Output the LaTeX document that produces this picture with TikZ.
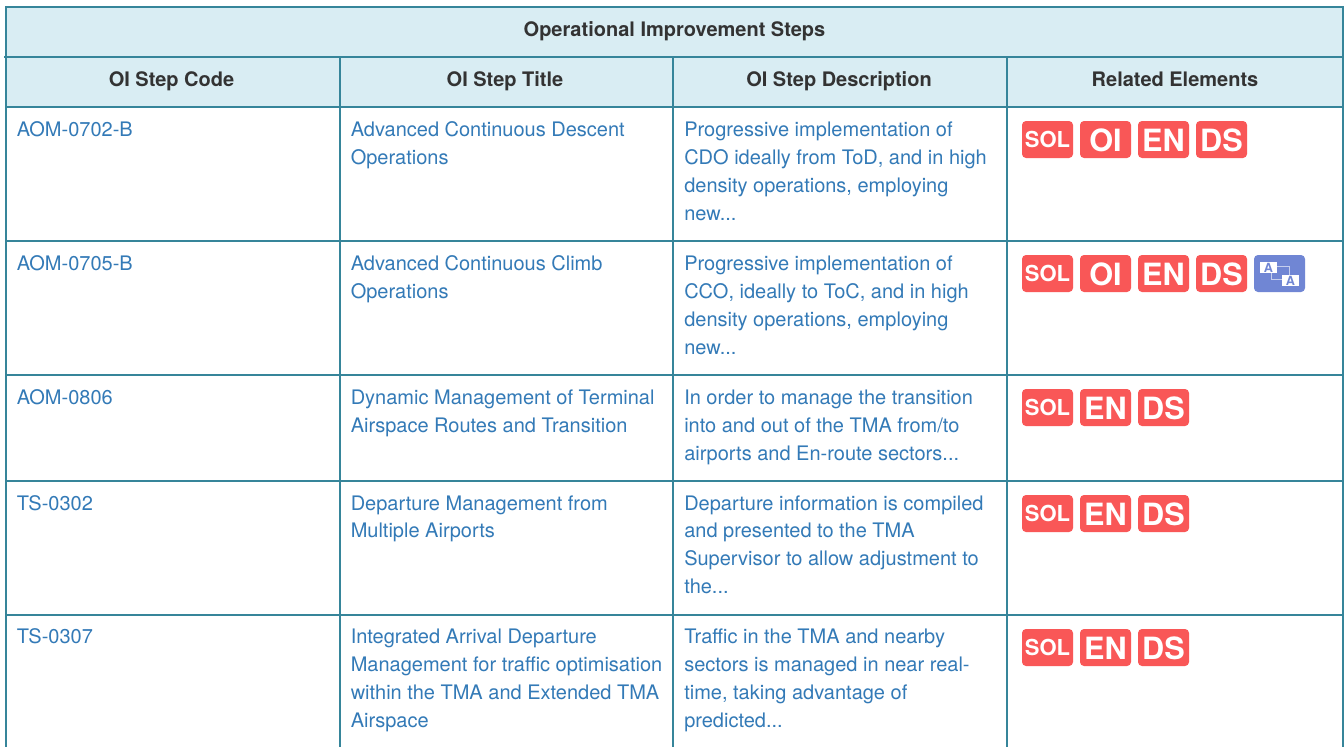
\documentclass[tikz,border=0pt]{standalone}
\usepackage{fontspec}
\setmainfont{TeX Gyre Heros}
\definecolor{rule}{HTML}{36859A}
\definecolor{headbg}{HTML}{D9EDF3}
\definecolor{linkc}{HTML}{337AB7}
\definecolor{headc}{HTML}{333333}
\definecolor{badger}{HTML}{F95757}
\definecolor{badgeb}{HTML}{7086D4}
\definecolor{iconl}{HTML}{C5CEEE}
\tikzset{
  x=0.75pt,y=-0.75pt,
  gridline/.style={draw=rule,line width=1.5pt},
  headtxt/.style={font=\fontsize{15pt}{18pt}\selectfont\bfseries,text=headc,anchor=base,inner sep=0pt,yshift=-0.75pt},
  celltxt/.style={font=\fontsize{15pt}{18pt}\selectfont,text=linkc,anchor=base west,inner sep=0pt,yshift=-0.75pt},
  badgebox/.style={fill=badger,rounded corners=3pt,draw=none},
  badgebig/.style={font=\fontsize{23pt}{26pt}\selectfont\bfseries,text=white,anchor=base,inner sep=0pt},
  badgesmall/.style={font=\fontsize{16.5pt}{19pt}\selectfont\bfseries,text=white,anchor=base,inner sep=0pt},
  iconbox/.style={fill=white,draw=none},
  iconlet/.style={font=\fontsize{9.5pt}{12pt}\selectfont\bfseries,text=badgeb,anchor=base,inner sep=0pt},
  iconline/.style={draw=iconl,line width=0.75pt}
}
\newcommand{\badgeat}[4]{% name, left x, top y, label
  \fill[badgebox] (#2,#3) rectangle ++(51,37);
  \node[badgebig] (#1) at ({#2+25.5},{#3+30}) {#4};}
\newcommand{\solat}[3]{% name, left x, top y
  \fill[badgebox] (#2,#3) rectangle ++(51,37);
  \node[badgesmall] (#1) at ({#2+25.5},{#3+26.5}) {SOL};}
\begin{document}
\begin{tikzpicture}
\useasboundingbox (0,0) rectangle (1344,747);
\fill[white] (0,0) rectangle (1344,747);
\fill[headbg] (6,7) rectangle (1343,107);
% grid
\draw[gridline] (5,7) -- (1344,7);
\draw[gridline] (4,57) -- (1344,57);
\draw[gridline] (6,107) -- (1344,107);
\draw[gridline] (6,241) -- (1344,241);
\draw[gridline] (6,375) -- (1344,375);
\draw[gridline] (6,481) -- (1344,481);
\draw[gridline] (6,615) -- (1344,615);
\draw[gridline] (6,6) -- (6,747);
\draw[gridline] (340,57) -- (340,747);
\draw[gridline] (673,57) -- (673,747);
\draw[gridline] (1007,57) -- (1007,747);
\draw[gridline] (1343,6) -- (1343,747);
% headers
\node[headtxt] (title) at (674.5,35) {Operational Improvement Steps};
\node[headtxt] (h1) at (171.5,85.5) {OI Step Code};
\node[headtxt] (h2) at (505,85.5) {OI Step Title};
\node[headtxt] (h3) at (839,85.5) {OI Step Description};
\node[headtxt] (h4) at (1175,85.5) {Related Elements};
% row 1
\node[celltxt] (c11) at (16.5,135.5) {AOM-0702-B};
\node[celltxt] (c12a) at (350.5,135.5) {Advanced Continuous Descent};
\node[celltxt] (c12b) at (350.5,163.5) {Operations};
\node[celltxt] (c13a) at (684,135.5) {Progressive implementation of};
\node[celltxt] (c13b) at (684,163.5) {CDO ideally from ToD, and in high};
\node[celltxt] (c13c) at (684,191.5) {density operations, employing};
\node[celltxt] (c13d) at (684,219.5) {new...};
\solat{b11}{1022}{121}
\badgeat{b12}{1080}{121}{OI}
\badgeat{b13}{1138}{121}{EN}
\badgeat{b14}{1196}{121}{DS}
% row 2
\node[celltxt] (c21) at (16.5,269.5) {AOM-0705-B};
\node[celltxt] (c22a) at (350.5,269.5) {Advanced Continuous Climb};
\node[celltxt] (c22b) at (350.5,297.5) {Operations};
\node[celltxt] (c23a) at (684,269.5) {Progressive implementation of};
\node[celltxt] (c23b) at (684,297.5) {CCO, ideally to ToC, and in high};
\node[celltxt] (c23c) at (684,325.5) {density operations, employing};
\node[celltxt] (c23d) at (684,353.5) {new...};
\solat{b21}{1022}{255}
\badgeat{b22}{1080}{255}{OI}
\badgeat{b23}{1138}{255}{EN}
\badgeat{b24}{1196}{255}{DS}
\fill[badgebox,fill=badgeb] (1254,255) rectangle ++(51,37);
\draw[iconline] (1277,266.5) -- (1289,266.5) -- (1289,275);
\draw[iconline] (1271,273) -- (1271,279.5) -- (1282,279.5);
\fill[iconbox] (1260,262) rectangle (1277,273);
\fill[iconbox] (1282,275) rectangle (1299,286);
\node[iconlet] (ia) at (1268.5,272) {A};
\node[iconlet] (ib) at (1290.5,285) {A};
% row 3
\node[celltxt] (c31) at (16.5,403.5) {AOM-0806};
\node[celltxt] (c32a) at (350.5,403.5) {Dynamic Management of Terminal};
\node[celltxt] (c32b) at (350.5,431.5) {Airspace Routes and Transition};
\node[celltxt] (c33a) at (684,403.5) {In order to manage the transition};
\node[celltxt] (c33b) at (684,431.5) {into and out of the TMA from/to};
\node[celltxt] (c33c) at (684,459.5) {airports and En-route sectors...};
\solat{b31}{1022}{389}
\badgeat{b33}{1080}{389}{EN}
\badgeat{b34}{1138}{389}{DS}
% row 4
\node[celltxt] (c41) at (16.5,509.5) {TS-0302};
\node[celltxt] (c42a) at (350.5,509.5) {Departure Management from};
\node[celltxt] (c42b) at (350.5,536.5) {Multiple Airports};
\node[celltxt] (c43a) at (684,509.5) {Departure information is compiled};
\node[celltxt] (c43b) at (684,536.5) {and presented to the TMA};
\node[celltxt] (c43c) at (684,564.5) {Supervisor to allow adjustment to};
\node[celltxt] (c43d) at (684,592.5) {the...};
\solat{b41}{1022}{495}
\badgeat{b43}{1080}{495}{EN}
\badgeat{b44}{1138}{495}{DS}
% row 5
\node[celltxt] (c51) at (16.5,642.5) {TS-0307};
\node[celltxt] (c52a) at (350.5,642.5) {Integrated Arrival Departure};
\node[celltxt] (c52b) at (350.5,670.5) {Management for traffic optimisation};
\node[celltxt] (c52c) at (350.5,698.5) {within the TMA and Extended TMA};
\node[celltxt] (c52d) at (350.5,726.5) {Airspace};
\node[celltxt] (c53a) at (684,642.5) {Traffic in the TMA and nearby};
\node[celltxt] (c53b) at (684,670.5) {sectors is managed in near real-};
\node[celltxt] (c53c) at (684,698.5) {time, taking advantage of};
\node[celltxt] (c53d) at (684,726.5) {predicted...};
\solat{b51}{1022}{629}
\badgeat{b53}{1080}{629}{EN}
\badgeat{b54}{1138}{629}{DS}
\end{tikzpicture}
\end{document}
